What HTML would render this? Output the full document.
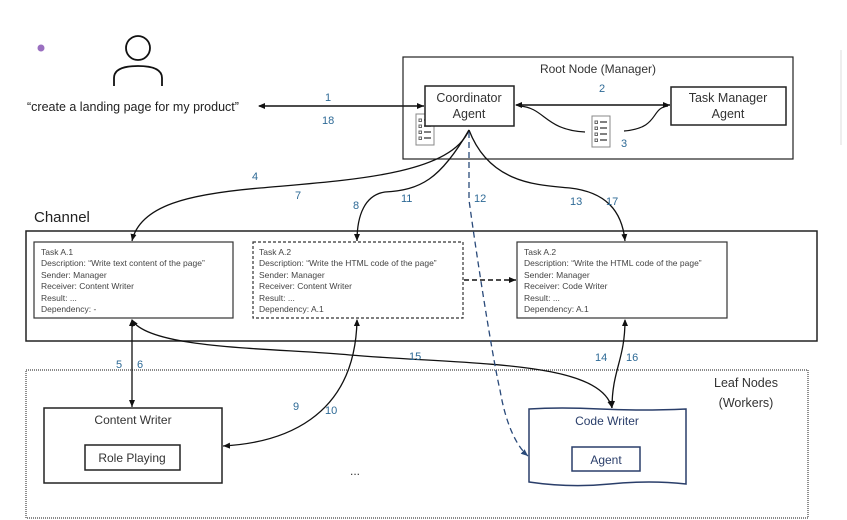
<!DOCTYPE html>
<html><head><meta charset="utf-8"><style>
html,body{margin:0;padding:0;background:#fff;}
svg{display:block;font-family:"Liberation Sans",sans-serif;}
</style></head><body>
<svg width="847" height="520" viewBox="0 0 847 520" xmlns="http://www.w3.org/2000/svg">
<defs>
<marker id="a" markerWidth="8" markerHeight="8" refX="7" refY="4" orient="auto" markerUnits="userSpaceOnUse"><path d="M0,1 L7,4 L0,7z" fill="#111"/></marker>
<marker id="b" markerWidth="8" markerHeight="8" refX="7" refY="4" orient="auto" markerUnits="userSpaceOnUse"><path d="M0,1 L7,4 L0,7z" fill="#2a4a7a"/></marker>
<marker id="s" markerWidth="8" markerHeight="8" refX="1" refY="4" orient="auto" markerUnits="userSpaceOnUse"><path d="M7,1 L0,4 L7,7z" fill="#111"/></marker>
<g id="doc"><rect x="0" y="0" width="18" height="31" fill="#fff" stroke="#888" stroke-width="1"/>
<g fill="none" stroke="#666" stroke-width="1"><rect x="3" y="5" width="2.5" height="2.5"/><rect x="3" y="11" width="2.5" height="2.5"/><rect x="3" y="17" width="2.5" height="2.5"/><rect x="3" y="23" width="2.5" height="2.5"/></g>
<g stroke="#555" stroke-width="1.5"><line x1="8" y1="6" x2="15" y2="6"/><line x1="8" y1="12" x2="15" y2="12"/><line x1="8" y1="18" x2="15" y2="18"/><line x1="8" y1="24" x2="15" y2="24"/></g></g>
</defs>
<line x1="841" y1="50" x2="841" y2="145" stroke="#ddd"/>
<circle cx="41" cy="48" r="3.5" fill="#9a6fc0"/>
<circle cx="138" cy="48" r="12" fill="none" stroke="#111" stroke-width="1.8"/>
<path d="M114,86 L114,78 Q114,66 138,66 Q162,66 162,78 L162,86" fill="none" stroke="#111" stroke-width="1.8"/>
<text x="27" y="111" font-size="12.5" fill="#222">“create a landing page for my product”</text>
<line x1="259" y1="106" x2="424" y2="106" stroke="#111" stroke-width="1.5" marker-start="url(#s)" marker-end="url(#a)"/>
<g fill="#2e6a96" font-size="11"><text x="325" y="101">1</text><text x="322" y="124">18</text><text x="599" y="92">2</text><text x="621" y="147">3</text></g>

<rect x="403" y="57" width="390" height="102" fill="none" stroke="#222" stroke-width="1.2"/>
<text x="598" y="73" font-size="12" fill="#333" text-anchor="middle">Root Node (Manager)</text>
<use href="#doc" x="416" y="114"/>
<rect x="425" y="86" width="89" height="40" fill="#fff" stroke="#222" stroke-width="1.5"/>
<text x="469" y="102" font-size="12.5" fill="#333" text-anchor="middle">Coordinator</text>
<text x="469" y="118" font-size="12.5" fill="#333" text-anchor="middle">Agent</text>
<rect x="671" y="87" width="115" height="38" fill="#fff" stroke="#222" stroke-width="1.5"/>
<text x="728" y="102" font-size="12.5" fill="#333" text-anchor="middle">Task Manager</text>
<text x="728" y="118" font-size="12.5" fill="#333" text-anchor="middle">Agent</text>
<line x1="516" y1="105" x2="670" y2="105" stroke="#111" stroke-width="1.5" marker-start="url(#s)" marker-end="url(#a)"/>
<path d="M520,106 C545,108 545,130 585,132" fill="none" stroke="#111" stroke-width="1.2"/>
<path d="M624,131 C660,128 650,108 668,106" fill="none" stroke="#111" stroke-width="1.2"/>
<use href="#doc" x="592" y="116"/>

<text x="34" y="222" font-size="15" fill="#222">Channel</text>
<rect x="26" y="231" width="791" height="110" fill="none" stroke="#222" stroke-width="1.5"/>
<g font-size="8.5" fill="#444">
<rect x="34" y="242" width="199" height="76" fill="#fff" stroke="#333" stroke-width="1.2"/>
<text x="41" y="255">Task A.1</text><text x="41" y="266">Description: “Write text content of the page”</text><text x="41" y="278">Sender: Manager</text><text x="41" y="289">Receiver: Content Writer</text><text x="41" y="301">Result: ...</text><text x="41" y="312">Dependency: -</text>
<rect x="253" y="242" width="210" height="76" fill="#fff" stroke="#333" stroke-width="1.2" stroke-dasharray="3,2"/>
<text x="259" y="255">Task A.2</text><text x="259" y="266">Description: “Write the HTML code of the page”</text><text x="259" y="278">Sender: Manager</text><text x="259" y="289">Receiver: Content Writer</text><text x="259" y="301">Result: ...</text><text x="259" y="312">Dependency: A.1</text>
<rect x="517" y="242" width="210" height="76" fill="#fff" stroke="#333" stroke-width="1.2"/>
<text x="524" y="255">Task A.2</text><text x="524" y="266">Description: “Write the HTML code of the page”</text><text x="524" y="278">Sender: Manager</text><text x="524" y="289">Receiver: Code Writer</text><text x="524" y="301">Result: ...</text><text x="524" y="312">Dependency: A.1</text>
</g>
<line x1="464" y1="280" x2="516" y2="280" stroke="#111" stroke-width="1.5" stroke-dasharray="5,3" marker-end="url(#a)"/>

<rect x="26" y="370" width="782" height="148" fill="none" stroke="#444" stroke-width="1.2" stroke-dasharray="1,1"/>
<text x="746" y="387" font-size="12.5" fill="#333" text-anchor="middle">Leaf Nodes</text>
<text x="746" y="407" font-size="12.5" fill="#333" text-anchor="middle">(Workers)</text>
<rect x="44" y="408" width="178" height="75" fill="#fff" stroke="#222" stroke-width="1.5"/>
<text x="133" y="424" font-size="12" fill="#333" text-anchor="middle">Content Writer</text>
<rect x="85" y="445" width="95" height="25" fill="#fff" stroke="#222" stroke-width="1.5"/>
<text x="132" y="462" font-size="12" fill="#333" text-anchor="middle">Role Playing</text>
<text x="355" y="475" font-size="12" fill="#333" text-anchor="middle">...</text>
<path d="M529,409 Q560,407 600,409 T686,409 L686,484 Q650,480 610,484 T529,482 Z" fill="#fff" stroke="#2a3e6a" stroke-width="1.5"/>
<text x="607" y="425" font-size="12" fill="#2a3e6a" text-anchor="middle">Code Writer</text>
<rect x="572" y="447" width="68" height="24" fill="#fff" stroke="#2a3e6a" stroke-width="1.5"/>
<text x="606" y="464" font-size="12" fill="#2a3e6a" text-anchor="middle">Agent</text>

<g fill="none" stroke="#111" stroke-width="1.3">
<path d="M469,130 C450,175 350,180 260,188 C190,194 140,205 132,241" marker-end="url(#a)"/>
<path d="M469,130 C440,180 420,190 385,192 C365,195 357,215 357,241" marker-end="url(#a)"/>
<path d="M469,130 C490,185 540,185 570,188 C605,192 622,210 625,241" marker-end="url(#a)"/>
<path d="M132,320 L132,407" marker-start="url(#s)" marker-end="url(#a)"/>
<path d="M132,320 C150,350 280,348 350,355 C470,365 600,360 612,408" marker-start="url(#s)" marker-end="url(#a)"/>
<path d="M357,320 C355,420 280,443 223,446" marker-start="url(#s)" marker-end="url(#a)"/>
<path d="M625,320 C625,360 612,370 612,408" marker-start="url(#s)" marker-end="url(#a)"/>
</g>
<path d="M469,132 L469,200 C480,280 495,370 500,390 C505,420 515,445 528,456" fill="none" stroke="#2a4a7a" stroke-width="1.3" stroke-dasharray="6,4" marker-end="url(#b)"/>
<g fill="#2e6a96" font-size="11">
<text x="252" y="180">4</text><text x="295" y="199">7</text><text x="353" y="209">8</text><text x="401" y="202">11</text><text x="474" y="202">12</text><text x="570" y="205">13</text><text x="606" y="205">17</text>
<text x="116" y="368">5</text><text x="137" y="368">6</text><text x="409" y="360">15</text><text x="595" y="361">14</text><text x="626" y="361">16</text><text x="293" y="410">9</text><text x="325" y="414">10</text>
</g>
</svg>
</body></html>
